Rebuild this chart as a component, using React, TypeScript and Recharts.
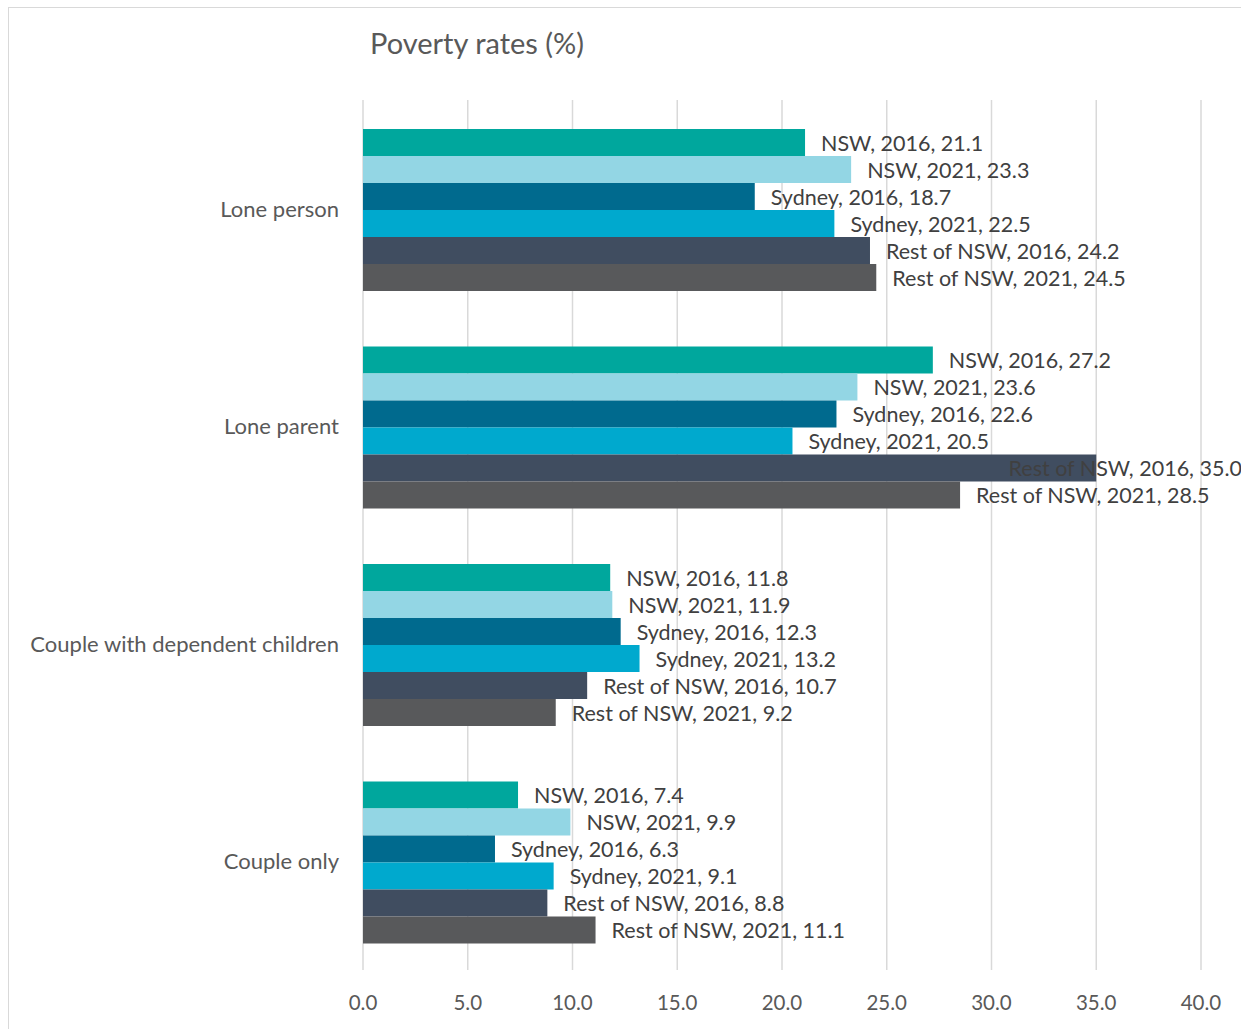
import React from "react";
import { BarChart, Bar, XAxis, YAxis, CartesianGrid, LabelList } from "recharts";

const categories = ["Lone person", "Lone parent", "Couple with dependent children", "Couple only"];
const nsw2016 = [21.1, 27.2, 11.8, 7.4];
const nsw2021 = [23.3, 23.6, 11.9, 9.9];
const syd2016 = [18.7, 22.6, 12.3, 6.3];
const syd2021 = [22.5, 20.5, 13.2, 9.1];
const rest2016 = [24.2, 35.0, 10.7, 8.8];
const rest2021 = [24.5, 28.5, 9.2, 11.1];
const xTicks = [0, 5, 10, 15, 20, 25, 30, 35, 40];

const series = [
  { key: "nsw2016", name: "NSW, 2016", values: nsw2016, color: "#00A79D" },
  { key: "nsw2021", name: "NSW, 2021", values: nsw2021, color: "#93D6E4" },
  { key: "syd2016", name: "Sydney, 2016", values: syd2016, color: "#006A8E" },
  { key: "syd2021", name: "Sydney, 2021", values: syd2021, color: "#00A9CE" },
  { key: "rest2016", name: "Rest of NSW, 2016", values: rest2016, color: "#404D60" },
  { key: "rest2021", name: "Rest of NSW, 2021", values: rest2021, color: "#58595B" },
];

const data = categories.map((c, i) => {
  const row: Record<string, string | number> = { cat: c };
  series.forEach((s) => (row[s.key] = s.values[i]));
  return row;
});

const FONT = "Lato, 'Noto Sans', sans-serif";
const RIGHT_EDGE = 1242;

function makeLabel(name: string) {
  return (props: any) => {
    const { x, y, width, height, value } = props;
    const text = `${name}, ${Number(value).toFixed(1)}`;
    const est = text.length * 11;
    let tx = x + width + 16;
    let anchor: "start" | "end" = "start";
    if (tx + est > RIGHT_EDGE) {
      tx = RIGHT_EDGE;
      anchor = "end";
    }
    return (
      <text
        x={tx}
        y={y + height / 2}
        dominantBaseline="central"
        textAnchor={anchor}
        fill="#404040"
        fontSize={21.5}
        fontFamily={FONT}
      >
        {text}
      </text>
    );
  };
}

export default function App() {
  return (
    <div style={{ position: "absolute", left: 0, top: 0, width: 1241, height: 1029, background: "#fff", overflow: "hidden" }}>
      <div
        style={{
          position: "absolute",
          left: 8,
          top: 7,
          width: 1260,
          height: 1060,
          border: "1px solid #d9d9d9",
        }}
      />
      <div
        style={{
          position: "absolute",
          left: 370,
          top: 25,
          fontFamily: FONT,
          fontSize: 29,
          color: "#595959",
        }}
      >
        Poverty rates (%)
      </div>
      <div style={{ position: "absolute", left: 0, top: 0 }}>
        <BarChart
          width={1241}
          height={1029}
          data={data}
          layout="vertical"
          margin={{ top: 100, right: 40, bottom: 0, left: 0 }}
          barCategoryGap={29}
          barGap={0}
        >
          <CartesianGrid horizontal={false} stroke="#d9d9d9" strokeWidth={1.5} />
          <XAxis
            type="number"
            domain={[0, 40]}
            ticks={xTicks}
            tickFormatter={(v: number) => v.toFixed(1)}
            axisLine={false}
            tickLine={false}
            tickSize={0}
            tickMargin={25}
            height={59}
            tick={{ fill: "#595959", fontSize: 20.5, fontFamily: FONT }}
            interval={0}
          />
          <YAxis
            type="category"
            dataKey="cat"
            axisLine={false}
            tickLine={false}
            tickSize={0}
            tickMargin={24}
            width={363}
            tick={{ fill: "#595959", fontSize: 22, fontFamily: FONT }}
          />
          {series.map((s) => (
            <Bar key={s.key} dataKey={s.key} name={s.name} fill={s.color} isAnimationActive={false}>
              <LabelList dataKey={s.key} content={makeLabel(s.name)} />
            </Bar>
          ))}
        </BarChart>
      </div>
    </div>
  );
}
